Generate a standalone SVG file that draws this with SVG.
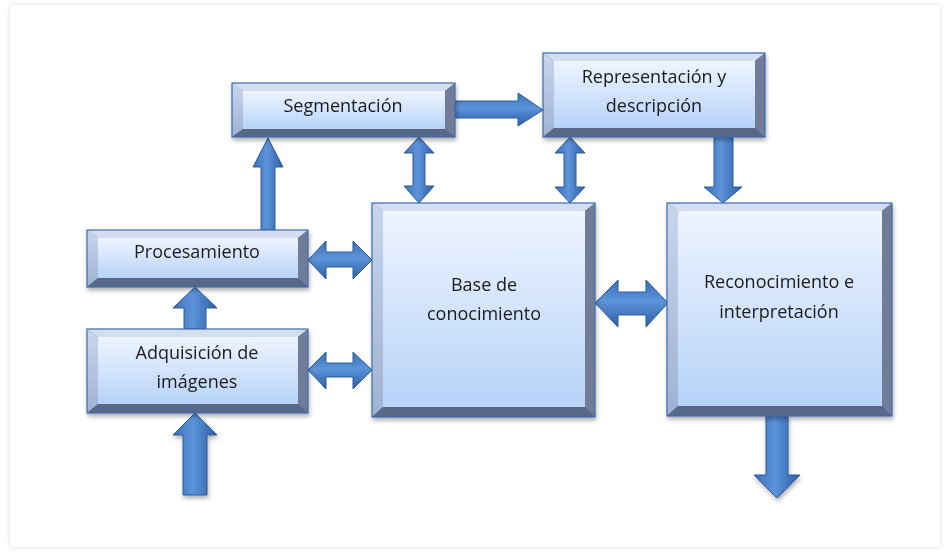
<svg xmlns="http://www.w3.org/2000/svg" width="948" height="552" viewBox="0 0 948 552">
<defs>
<style>
.t{font-family:"Open Sans","Liberation Sans",sans-serif;font-size:18px;fill:#1b1b1b;text-anchor:middle}
.bt{fill:#d3def0}
.bl{fill:url(#gl)}
.br{fill:#6f7c98}
.bb{fill:#586789}
.in{fill:url(#gin)}
.ol{fill:none;stroke:#3d6cae;stroke-width:1.2}
.av{fill:url(#gav);stroke:#2b5c9c;stroke-width:1}
.ah{fill:url(#gah);stroke:#2b5c9c;stroke-width:1}
</style>
<linearGradient id="gin" x1="0" y1="0" x2="0" y2="1"><stop offset="0" stop-color="#eef4ff"/><stop offset="1" stop-color="#b7d3f8"/></linearGradient>
<linearGradient id="gl" x1="0" y1="0" x2="0" y2="1"><stop offset="0" stop-color="#c9d6ec"/><stop offset="1" stop-color="#9fb2d4"/></linearGradient>
<linearGradient id="gav" x1="0" y1="0" x2="1" y2="0"><stop offset="0" stop-color="#3a6fb6"/><stop offset="0.45" stop-color="#5c93d9"/><stop offset="1" stop-color="#2d5fa6"/></linearGradient>
<linearGradient id="gah" x1="0" y1="0" x2="0" y2="1"><stop offset="0" stop-color="#3a6fb6"/><stop offset="0.45" stop-color="#5c93d9"/><stop offset="1" stop-color="#2d5fa6"/></linearGradient>
<filter id="sh" x="-10%" y="-10%" width="120%" height="130%"><feDropShadow dx="1" dy="3" stdDeviation="2" flood-color="#000" flood-opacity="0.3"/></filter>
<filter id="fs" x="-2%" y="-2%" width="104%" height="104%"><feDropShadow dx="0" dy="0" stdDeviation="2" flood-color="#000" flood-opacity="0.15"/></filter>
</defs>
<rect x="0" y="0" width="948" height="552" fill="#ffffff"/>
<rect x="10" y="5" width="930" height="542" fill="#ffffff" filter="url(#fs)"/>

<g id="connectors">
<path class="av" d="M268,138 L283,167 L275,167 L275,230 L261,230 L261,167 L253,167 Z"/>
<path class="av" d="M419,137 L434,153 L425,153 L425,186 L434,186 L419,203 L404,186 L413,186 L413,153 L404,153 Z"/>
<path class="av" d="M570,137 L585,153 L576,153 L576,187 L585,187 L570,203 L555,187 L564,187 L564,153 L555,153 Z"/>
<path class="av" d="M714,137 L733,137 L733,187 L742,187 L723,203 L704,187 L714,187 Z"/>
<path class="ah" d="M455,101 L518,101 L518,93 L543,110 L518,126 L518,118 L455,118 Z"/>
<path class="ah" d="M308,260 L326,241 L326,252 L353,252 L353,241 L372,260 L353,279 L353,267 L326,267 L326,279 Z"/>
<path class="ah" d="M308,370 L326,352 L326,363 L353,363 L353,352 L372,370 L353,389 L353,377 L326,377 L326,389 Z"/>
<path class="av" d="M195,287 L217,308 L206,308 L206,329 L184,329 L184,308 L173,308 Z"/>
<path class="av" d="M195,413 L217,435 L207,435 L207,495 L183,495 L183,435 L173,435 Z" filter="url(#sh)"/>
<path class="ah" d="M595,303 L618,280 L618,292 L646,292 L646,280 L668,303 L646,327 L646,315 L618,315 L618,327 Z"/>
<path class="av" d="M766,416 L788,416 L788,475 L800,475 L777,498 L754,475 L766,475 Z" filter="url(#sh)"/>
</g>

<g id="segmentacion" filter="url(#sh)">
<rect x="232" y="83" width="223" height="54" class="br"/>
<polygon class="bt" points="232,83 455,83 445,91 243,91"/>
<polygon class="bl" points="232,83 243,91 243,129 232,137"/>
<polygon class="br" points="455,83 455,137 445,129 445,91"/>
<polygon class="bb" points="232,137 455,137 445,129 243,129"/>
<rect x="243" y="91" width="202" height="38" class="in"/>
<rect x="232" y="83" width="223" height="54" class="ol"/>
<text class="t" x="343" y="112">Segmentación</text>
</g>

<g id="representacion" filter="url(#sh)">
<rect x="543" y="53" width="222" height="84" class="br"/>
<polygon class="bt" points="543,53 765,53 755,61 554,61"/>
<polygon class="bl" points="543,53 554,61 554,128 543,137"/>
<polygon class="br" points="765,53 765,137 755,128 755,61"/>
<polygon class="bb" points="543,137 765,137 755,128 554,128"/>
<rect x="554" y="61" width="201" height="67" class="in"/>
<rect x="543" y="53" width="222" height="84" class="ol"/>
<text class="t" x="654" y="83">Representación y</text>
<text class="t" x="654" y="112">descripción</text>
</g>

<g id="procesamiento" filter="url(#sh)">
<rect x="87" y="230" width="221" height="57" class="br"/>
<polygon class="bt" points="87,230 308,230 298,238 98,238"/>
<polygon class="bl" points="87,230 98,238 98,278 87,287"/>
<polygon class="br" points="308,230 308,287 298,278 298,238"/>
<polygon class="bb" points="87,287 308,287 298,278 98,278"/>
<rect x="98" y="238" width="200" height="40" class="in"/>
<rect x="87" y="230" width="221" height="57" class="ol"/>
<text class="t" x="197" y="258">Procesamiento</text>
</g>

<g id="adquisicion" filter="url(#sh)">
<rect x="87" y="329" width="221" height="84" class="br"/>
<polygon class="bt" points="87,329 308,329 298,337 98,337"/>
<polygon class="bl" points="87,329 98,337 98,404 87,413"/>
<polygon class="br" points="308,329 308,413 298,404 298,337"/>
<polygon class="bb" points="87,413 308,413 298,404 98,404"/>
<rect x="98" y="337" width="200" height="67" class="in"/>
<rect x="87" y="329" width="221" height="84" class="ol"/>
<text class="t" x="197" y="359">Adquisición de</text>
<text class="t" x="197" y="388">imágenes</text>
</g>

<g id="base" filter="url(#sh)">
<rect x="372" y="203" width="223" height="214" class="br"/>
<polygon class="bt" points="372,203 595,203 585,211 383,211"/>
<polygon class="bl" points="372,203 383,211 383,407 372,417"/>
<polygon class="br" points="595,203 595,417 585,407 585,211"/>
<polygon class="bb" points="372,417 595,417 585,407 383,407"/>
<rect x="383" y="211" width="202" height="196" class="in"/>
<rect x="372" y="203" width="223" height="214" class="ol"/>
<text class="t" x="484" y="291">Base de</text>
<text class="t" x="484" y="320">conocimiento</text>
</g>

<g id="reconocimiento" filter="url(#sh)">
<rect x="667" y="203" width="225" height="213" class="br"/>
<polygon class="bt" points="667,203 892,203 882,211 678,211"/>
<polygon class="bl" points="667,203 678,211 678,406 667,416"/>
<polygon class="br" points="892,203 892,416 882,406 882,211"/>
<polygon class="bb" points="667,416 892,416 882,406 678,406"/>
<rect x="678" y="211" width="204" height="195" class="in"/>
<rect x="667" y="203" width="225" height="213" class="ol"/>
<text class="t" x="779" y="288">Reconocimiento e</text>
<text class="t" x="779" y="318">interpretación</text>
</g>
</svg>
